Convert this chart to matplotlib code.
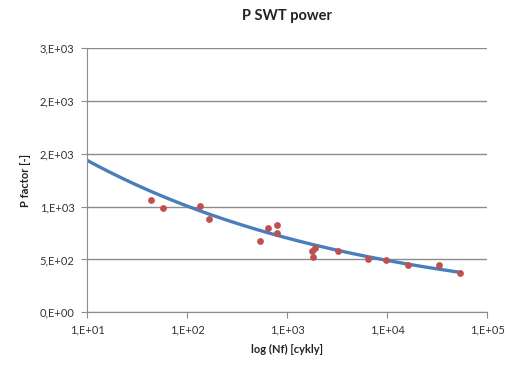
import numpy as np
import matplotlib
matplotlib.use('Agg')
import matplotlib.pyplot as plt
from matplotlib.ticker import FixedLocator, FixedFormatter

# measured points: cycles to failure and P SWT factor
nf = [44, 57, 135, 166, 541, 650, 800, 800, 1766, 1905, 1807, 3260, 6500, 9770, 16100, 33300, 54100]
p_factor = [1059, 987, 1002, 884, 674, 798, 824, 748, 581, 610, 521, 581, 509, 492, 445, 447, 371]

# power trendline y = a * x^b as shown in the chart
trend_a = 2058
trend_b = -0.1555

x_ticks = [1e1, 1e2, 1e3, 1e4, 1e5]
x_labels = ['1,E+01', '1,E+02', '1,E+03', '1,E+04', '1,E+05']
y_ticks = [0, 500, 1000, 1500, 2000, 2500]
y_labels = ['0,E+00', '5,E+02', '1,E+03', '2,E+03', '2,E+03', '3,E+03']

plt.rcParams['font.family'] = ['Lato', 'DejaVu Sans']

fig = plt.figure(figsize=(5.1, 3.67), dpi=100)
ax = fig.add_axes([0.1706, 0.149, 0.7844, 0.72])

# trendline drawn back to 10 cycles
xs = np.logspace(1, np.log10(max(nf)), 200)
ax.plot(xs, trend_a * xs ** trend_b, color='#4A7EBB', lw=2.4, zorder=2)

ax.scatter(nf, p_factor, s=24, color='#C0504D', zorder=3, linewidths=0)

ax.set_xscale('log')
ax.set_xlim(1e1, 1e5)
ax.set_ylim(0, 2500)
ax.xaxis.set_major_locator(FixedLocator(x_ticks))
ax.xaxis.set_major_formatter(FixedFormatter(x_labels))
ax.xaxis.set_minor_locator(FixedLocator([]))
ax.yaxis.set_major_locator(FixedLocator(y_ticks))
ax.yaxis.set_major_formatter(FixedFormatter(y_labels))

ax.grid(axis='y', color='#8c8c8c', lw=1)
ax.set_axisbelow(True)
for s in ['top', 'right']:
    ax.spines[s].set_visible(False)
for s in ['left', 'bottom']:
    ax.spines[s].set_color('#8c8c8c')
ax.tick_params(colors='#8c8c8c', labelcolor='#333333', labelsize=8, length=4, direction='out', pad=5)

ax.set_title('P SWT power', fontsize=10.5, fontweight='bold', color='#222222', pad=20)
ax.set_xlabel('log (Nf) [cykly]', fontsize=8, fontweight='bold', color='#222222', labelpad=6)
ax.set_ylabel('P factor [-]', fontsize=8, fontweight='bold', color='#222222', labelpad=6)

fig.savefig('out.png', dpi=100)
